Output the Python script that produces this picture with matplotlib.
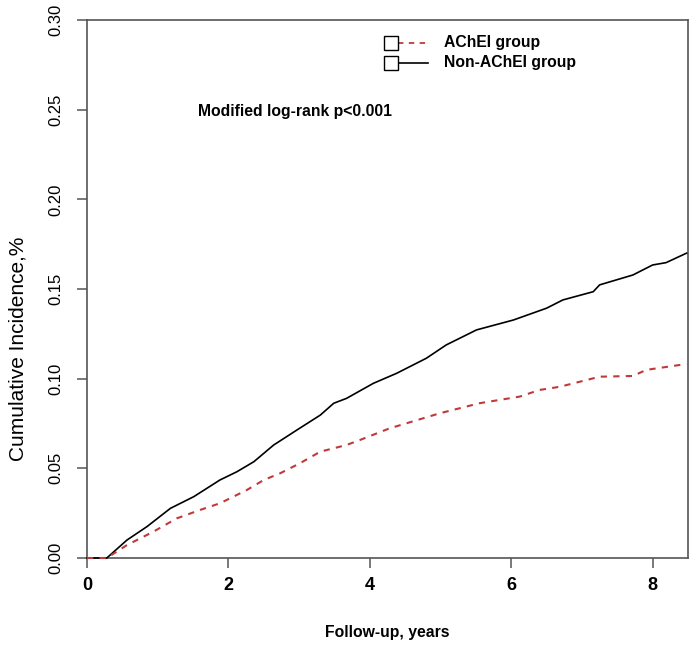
import matplotlib
matplotlib.use("Agg")
import matplotlib.pyplot as plt
from matplotlib import font_manager

# ---- data ----
nonachei_x = [0.0, 0.28, 0.565, 0.848, 1.18, 1.51, 1.88, 2.12, 2.36, 2.64, 2.97, 3.30, 3.49,
              3.67, 4.05, 4.38, 4.80, 5.08, 5.51, 6.03, 6.50, 6.73, 7.16, 7.25, 7.72, 8.00,
              8.19, 8.48]
nonachei_y = [0.0, 0.0, 0.010, 0.0175, 0.0277, 0.0342, 0.0435, 0.0481, 0.0537, 0.063, 0.0714,
              0.0797, 0.0863, 0.089, 0.0974, 0.103, 0.1114, 0.1188, 0.1272, 0.1327, 0.1393,
              0.1439, 0.1485, 0.1523, 0.1578, 0.1634, 0.1647, 0.170]
achei_x = [0.0, 0.28, 0.565, 0.94, 1.27, 1.60, 1.88, 2.26, 2.50, 2.73, 3.01, 3.30, 3.67,
           3.86, 4.28, 4.99, 5.55, 6.12, 6.40, 6.69, 7.25, 7.72, 7.91, 8.48]
achei_y = [0.0, 0.0, 0.0072, 0.0147, 0.0221, 0.0268, 0.0305, 0.0379, 0.0435, 0.0472, 0.0528,
           0.0593, 0.063, 0.0658, 0.0723, 0.0807, 0.0863, 0.090, 0.0937, 0.0955, 0.1011,
           0.1015, 0.1049, 0.1082]
xticks = [0, 2, 4, 6, 8]
yticks = [0.00, 0.05, 0.10, 0.15, 0.20, 0.25, 0.30]
ytick_labels = ["0.00", "0.05", "0.10", "0.15", "0.20", "0.25", "0.30"]
legend_labels = ["AChEI group", "Non-AChEI group"]
annotation = "Modified log-rank p<0.001"

installed = {f.name for f in font_manager.fontManager.ttflist}
fam = [f for f in ["Liberation Sans Narrow", "Liberation Sans", "DejaVu Sans"] if f in installed]
plt.rcParams['font.family'] = fam

RED = "#c0393b"
SPINE = "#555555"

fig = plt.figure(figsize=(7.0, 6.49), dpi=100)
ax = fig.add_axes([87/700, 1 - 558/649, (688-87)/700, (558-20)/649])

ax.plot(achei_x, achei_y, color=RED, lw=1.5, ls=(0, (3, 3)), clip_on=False, zorder=5)
ax.plot(nonachei_x, nonachei_y, color="black", lw=1.2, clip_on=False, zorder=4)

ax.set_xlim(0, 8.5)
ax.set_ylim(0, 0.30)
ax.set_xticks(xticks)
ax.set_xticklabels([str(t) for t in xticks], fontsize=13, fontweight='bold')
ax.set_yticks(yticks)
ax.set_yticklabels(ytick_labels, fontsize=12, rotation=90, va='center')

for s in ax.spines.values():
    s.set_color(SPINE)
    s.set_linewidth(1.2)
    s.set_zorder(2)
ax.tick_params(axis='both', direction='out', length=7, width=1.1, color=SPINE)
ax.tick_params(axis='x', pad=7)
ax.tick_params(axis='y', pad=10)

ax.set_xlabel("Follow-up, years", fontsize=11.3, fontweight='bold')
ax.xaxis.label.set_va('center')
ax.xaxis.set_label_coords(0.5, (558 - 632) / 538)
ax.set_ylabel("Cumulative Incidence,%", fontsize=15)
ax.yaxis.label.set_va('center')
ax.yaxis.set_label_coords((18 - 87) / 601, (558 - 349) / 538)

ax.text(1.57, 0.249, annotation, fontsize=11.3, fontweight='bold', va='center', ha='left')

# legend drawn manually (square + line sample), in axes fraction
def fx(px):
    return (px - 87) / 601
def fy(py):
    return (558 - py) / 538

styles = [dict(color=RED, lw=1.3, ls=(0, (3, 3))), dict(color="black", lw=1.2)]
for i, (lab, st) in enumerate(zip(legend_labels, styles)):
    yy = fy(42.5 + 20 * i)
    ax.plot([fx(398), fx(428)], [yy, yy], transform=ax.transAxes, clip_on=False, **st)
    ax.plot([fx(391)], [yy], transform=ax.transAxes, marker='s', ms=10, mfc='white',
            mec='black', mew=1.0, ls='none', clip_on=False)
    ax.text(fx(444), yy, lab, transform=ax.transAxes, fontsize=11.3, fontweight='bold',
            va='center', ha='left')

fig.savefig("out.png", dpi=100)
